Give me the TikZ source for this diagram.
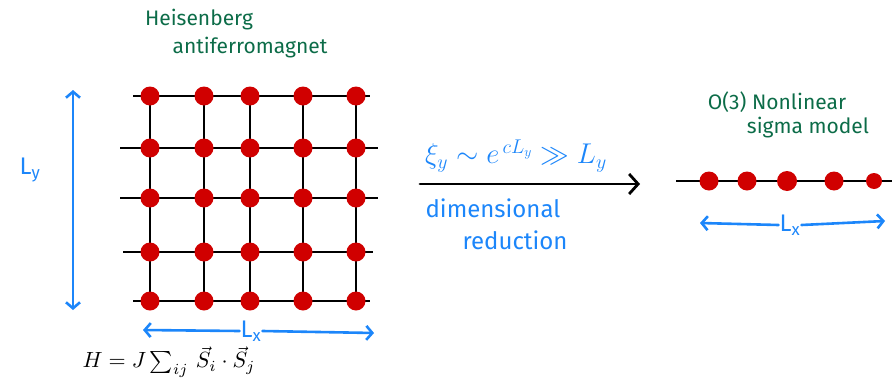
\documentclass[tikz,border=0pt]{standalone}
\usepackage{fontspec}
\newfontfamily\hand{Fira Sans}
\usetikzlibrary{arrows.meta}
\definecolor{spinred}{RGB}{208,0,0}
\definecolor{inkblue}{RGB}{28,134,250}
\definecolor{inkgreen}{RGB}{12,108,72}
\tikzset{
  spin/.style={circle, fill=spinred, inner sep=0pt, minimum size=19pt},
  bond/.style={line width=2.6pt, black},
  span/.style={inkblue, line width=2.6pt, line cap=round},
  bluetxt/.style={inkblue, font=\hand\fontsize{24}{26}\selectfont, inner sep=1pt},
  greentxt/.style={inkgreen, font=\hand\fontsize{21}{23}\selectfont, inner sep=1pt}
}
\begin{document}
\begin{tikzpicture}[x=1pt,y=-1pt]
  \useasboundingbox (0,0) rectangle (892,386);
  % 2d lattice: bonds, then spins on top
  \foreach \y/\a/\b in {96/133/370,148/120/378,198/120/378,252/123/373,301/133/370}
    \draw[bond] (\a,\y) -- (\b,\y);
  \foreach \x in {150,204,250,303,356}
    \draw[bond] (\x,96) -- (\x,301);
  \foreach \x [count=\i] in {150,204,250,303,356}
    \foreach \y [count=\j] in {96,148,198,252,301}
      \node[spin] (s-\i-\j) at (\x,\y) {};
  \node[greentxt] (heis) at (199,20) {Heisenberg};
  \node[greentxt] (afm) at (250,48) {antiferromagnet};
  % system sizes
  \coordinate (lytop) at (73,90);
  \coordinate (lybot) at (73,310);
  \draw[span, {Straight Barb[length=6pt,width=14pt]}-{Straight Barb[length=6pt,width=14pt]}] (lytop) -- (lybot);
  \node[bluetxt] (ly) at (30,170) {L\textsubscript{y}};
  \node[bluetxt] (lx) at (251,331) {L\textsubscript{x}};
  \coordinate (lxa) at (143,330);
  \coordinate (lxb) at (374,333);
  \draw[span, {Straight Barb[length=6pt,width=14pt]}-] (lxa) -- (lx.west);
  \draw[span, -{Straight Barb[length=6pt,width=14pt]}] (lx.east) -- (lxb);
  \node (ham) at (169,362) {\scalebox{2.2}{$H = J\sum_{ij}\,\vec{S}_i\cdot\vec{S}_j$}};
  % reduction arrow
  \coordinate (ra) at (420,184);
  \coordinate (rb) at (640,184);
  \draw[line width=2.8pt, line cap=round, -{Straight Barb[length=9pt,width=20pt]}] (ra) -- (rb);
  \node[bluetxt] (xi) at (516,156) {\scalebox{1.15}{$\xi_y \sim e^{\,c L_y} \gg L_y$}};
  \node[bluetxt] (dim) at (493,208) {dimensional};
  \node[bluetxt] (red) at (515,240) {reduction};
  % 1d chain
  \draw[bond] (676,181) -- (892,181);
  \foreach \x/\d [count=\i] in {709/19,747/19,787/20,834/19,874/16}
    \node[spin, minimum size=\d pt] (c-\i) at (\x,181) {};
  \node[greentxt] (o3) at (777,102) {O(3) Nonlinear};
  \node[greentxt] (sig) at (808,128) {sigma model};
  \node[bluetxt] (lx2) at (790,225) {L\textsubscript{x}};
  \coordinate (cxa) at (700,223);
  \coordinate (cxb) at (885,221);
  \draw[span, {Straight Barb[length=6pt,width=14pt]}-] (cxa) -- (lx2.west);
  \draw[span, -{Straight Barb[length=6pt,width=14pt]}] (lx2.east) -- (cxb);
\end{tikzpicture}
\end{document}
